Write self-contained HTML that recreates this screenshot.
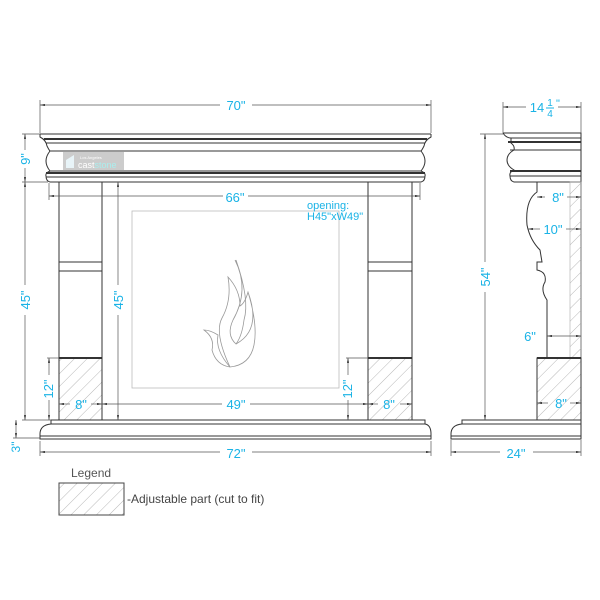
<!DOCTYPE html>
<html><head><style>body{margin:0;background:#fff}svg{display:block}</style></head><body>
<svg width="600" height="600" viewBox="0 0 600 600" xmlns="http://www.w3.org/2000/svg" font-family="Liberation Sans, sans-serif">
<defs>
<pattern id="h" width="9" height="9" patternUnits="userSpaceOnUse" patternTransform="rotate(45)">
<line x1="0" y1="0" x2="0" y2="9" stroke="#999" stroke-width="0.7"/>
</pattern>
<marker id="a" viewBox="0 0 10 10" refX="10" refY="5" markerWidth="7" markerHeight="7" orient="auto-start-reverse"><path d="M0,3 L10,5 L0,7 z" fill="#222"/></marker>
</defs>
<rect width="600" height="600" fill="#fff"/>
<g stroke="#333" stroke-width="1" fill="none">
<line x1="40" y1="134" x2="431" y2="134"/>
<path d="M40,134 L40,137 Q46,140 47,146 Q49,150 50,151 L421,151 Q422,150 424,146 Q425,140 431,137 L431,134"/>
<line x1="44" y1="139" x2="427" y2="139" stroke-width="2"/>
<line x1="46" y1="143" x2="425" y2="143"/>
<path d="M50,151 Q42,161 50,171 L421,171 Q429,161 421,151"/>
<path d="M50,171 Q45,173 46,176 Q46,181 50,182 L421,182 Q425,181 425,176 Q426,173 421,171 Z"/>
<line x1="46" y1="173" x2="425" y2="173" stroke-width="2"/>
<line x1="46" y1="177" x2="425" y2="177"/>
<rect x="59" y="182" width="43" height="238"/>
<rect x="368" y="182" width="44" height="238"/>
<line x1="59" y1="262" x2="102" y2="262"/><line x1="59" y1="271" x2="102" y2="271"/>
<line x1="368" y1="262" x2="412" y2="262"/><line x1="368" y1="271" x2="412" y2="271"/>
<rect x="59" y="358" width="43" height="62" fill="url(#h)"/>
<rect x="368" y="358" width="44" height="62" fill="url(#h)"/>
<line x1="59" y1="358" x2="102" y2="358" stroke-width="2"/>
<line x1="368" y1="358" x2="412" y2="358" stroke-width="2"/>
<path d="M51,420 L425,420 L425,424 Q431,425 431,434 L431,436 L40,436 L40,434 Q40,425 51,424 Z"/>
<line x1="51" y1="424" x2="425" y2="424"/>
<rect x="40" y="436" width="391" height="3"/>
</g>
<rect x="132" y="211" width="207" height="177" fill="none" stroke="#bbb" stroke-width="0.8"/>
<g stroke="#999" stroke-width="0.8" fill="none">
<path d="M235,260 Q250,290 233,320 Q226,335 236,344 Q242,336 244,320 Q250,300 236,260"/>
<path d="M236,344 Q262,330 248,292 Q245,303 240,306 Q240,290 228,277 Q232,300 222,318 Q214,333 230,367 Q250,365 254,345 Q258,325 248,292"/>
<path d="M230,367 Q215,350 218,335 Q210,330 204,330 Q215,338 212,350 Q216,365 230,367"/>
</g>
<rect x="63" y="152" width="61" height="18" fill="#ccc"/>
<text x="80" y="159" font-size="4" fill="#fff">Los Angeles</text>
<text x="78" y="168" font-size="9" fill="#fff">cast<tspan fill="#aee">stone</tspan></text>
<path d="M66,168 L66,160 L74,155 L74,168 Z" fill="#e8f4f8"/>
<g stroke="#333" stroke-width="1" fill="none">
<path d="M503,133 L581,133 L581,420"/>
<path d="M503,133 Q506,138 511,138 L511,143 Q515,146 514,150 Q507,154 507,160 Q507,166 514,170 Q509,172 510,176 Q510,181 514,182 L581,182"/>
<line x1="511" y1="138" x2="581" y2="138"/><line x1="508" y1="142" x2="581" y2="142" stroke-width="2"/>
<line x1="510" y1="150" x2="581" y2="150"/>
<line x1="510" y1="171" x2="581" y2="171" stroke-width="2"/><line x1="510" y1="176" x2="581" y2="176"/>
<path d="M537,182 L537,192 Q525,200 527,225 Q530,240 540,250 L542,262 L537,262 L537,270 Q547,272 545,282 Q540,290 547,300 L547,358"/>
<rect x="570" y="182" width="11" height="176" fill="url(#h)" stroke="#aaa" stroke-width="0.6"/>
<rect x="537" y="358" width="44" height="62" fill="url(#h)"/>
<line x1="537" y1="358" x2="581" y2="358" stroke-width="2"/>
<path d="M462,420 L581,420 L581,436 L451,436 L451,434 Q451,425 462,424 Z"/>
<line x1="462" y1="424" x2="581" y2="424"/>
<rect x="451" y="436" width="130" height="3"/>
</g>
<g stroke="#555" stroke-width="0.7" fill="none">
<line x1="40" y1="105" x2="220" y2="105" marker-start="url(#a)"/><line x1="252" y1="105" x2="431" y2="105" marker-end="url(#a)"/>
<line x1="40" y1="100" x2="40" y2="133"/><line x1="431" y1="100" x2="431" y2="133"/>
<line x1="49" y1="196" x2="223" y2="196" marker-start="url(#a)"/><line x1="248" y1="196" x2="420" y2="196" marker-end="url(#a)"/>
<line x1="49" y1="183" x2="49" y2="200"/><line x1="420" y1="183" x2="420" y2="200"/>
<line x1="40" y1="452" x2="220" y2="452" marker-start="url(#a)"/><line x1="252" y1="452" x2="431" y2="452" marker-end="url(#a)"/>
<line x1="40" y1="441" x2="40" y2="456"/><line x1="431" y1="441" x2="431" y2="456"/>
<line x1="25" y1="134" x2="25" y2="150" marker-start="url(#a)"/><line x1="25" y1="168" x2="25" y2="182" marker-end="url(#a)"/>
<line x1="22" y1="134" x2="40" y2="134"/><line x1="22" y1="182" x2="48" y2="182"/>
<line x1="25" y1="182" x2="25" y2="285" marker-start="url(#a)"/><line x1="25" y1="315" x2="25" y2="420" marker-end="url(#a)"/>
<line x1="22" y1="420" x2="51" y2="420"/>
<line x1="16" y1="420" x2="16" y2="438" marker-start="url(#a)" marker-end="url(#a)"/>
<line x1="13" y1="438" x2="40" y2="438"/>
<line x1="118" y1="182" x2="118" y2="285" marker-start="url(#a)"/><line x1="118" y1="315" x2="118" y2="420" marker-end="url(#a)"/>
<line x1="49" y1="358" x2="49" y2="375" marker-start="url(#a)"/><line x1="49" y1="400" x2="49" y2="420" marker-end="url(#a)"/>
<line x1="47" y1="358" x2="59" y2="358"/>
<line x1="348" y1="358" x2="348" y2="375" marker-start="url(#a)"/><line x1="348" y1="400" x2="348" y2="420" marker-end="url(#a)"/>
<line x1="346" y1="358" x2="368" y2="358"/>
<line x1="59" y1="404" x2="70" y2="404" marker-start="url(#a)"/><line x1="91" y1="404" x2="102" y2="404" marker-end="url(#a)"/>
<line x1="368" y1="404" x2="378" y2="404" marker-start="url(#a)"/><line x1="400" y1="404" x2="412" y2="404" marker-end="url(#a)"/>
<line x1="102" y1="404" x2="222" y2="404" marker-start="url(#a)"/><line x1="250" y1="404" x2="368" y2="404" marker-end="url(#a)"/>
<line x1="503" y1="107" x2="526" y2="107" marker-start="url(#a)"/><line x1="558" y1="107" x2="581" y2="107" marker-end="url(#a)"/>
<line x1="503" y1="102" x2="503" y2="133"/><line x1="581" y1="102" x2="581" y2="133"/>
<line x1="485" y1="134" x2="485" y2="262" marker-start="url(#a)"/><line x1="485" y1="292" x2="485" y2="420" marker-end="url(#a)"/>
<line x1="480" y1="134" x2="503" y2="134"/>
<line x1="451" y1="452" x2="500" y2="452" marker-start="url(#a)"/><line x1="533" y1="452" x2="581" y2="452" marker-end="url(#a)"/>
<line x1="451" y1="440" x2="451" y2="456"/><line x1="581" y1="440" x2="581" y2="456"/>
<line x1="537" y1="197" x2="545" y2="197" marker-start="url(#a)"/><line x1="567" y1="197" x2="581" y2="197" marker-end="url(#a)"/>
<line x1="528" y1="229" x2="540" y2="229" marker-start="url(#a)"/><line x1="566" y1="229" x2="581" y2="229" marker-end="url(#a)"/>
<line x1="547" y1="336" x2="581" y2="336" marker-start="url(#a)" marker-end="url(#a)"/>
<line x1="537" y1="403" x2="548" y2="403" marker-start="url(#a)"/><line x1="570" y1="403" x2="581" y2="403" marker-end="url(#a)"/>
</g>
<g fill="#1ab3e6" font-size="13" text-anchor="middle">
<text x="236" y="110">70"</text>
<text x="235" y="202">66"</text>
<text x="236" y="458">72"</text>
<text x="236" y="409">49"</text>
<text x="81" y="409">8"</text>
<text x="389" y="409">8"</text>
<text transform="translate(30,159) rotate(-90)">9"</text>
<text transform="translate(30,300) rotate(-90)">45"</text>
<text transform="translate(123,300) rotate(-90)">45"</text>
<text transform="translate(53,389) rotate(-90)">12"</text>
<text transform="translate(352,389) rotate(-90)">12"</text>
<text transform="translate(20,447) rotate(-90)" font-size="12">3"</text>
<text transform="translate(490,277) rotate(-90)">54"</text>
<text x="516" y="458">24"</text>
<text x="558" y="202">8"</text>
<text x="553" y="234">10"</text>
<text x="530" y="341">6"</text>
<text x="561" y="408">8"</text>
<text x="537" y="112" font-size="13">14</text>
<text x="550" y="106" font-size="10">1</text>
<line x1="546" y1="108" x2="554" y2="108" stroke="#1ab3e6"/>
<text x="550" y="117" font-size="10">4</text>
<text x="558" y="107" font-size="11">"</text>
<text x="307" y="209" font-size="11" text-anchor="start">opening:</text>
<text x="307" y="220" font-size="11" text-anchor="start">H45"xW49"</text>
</g>
<text x="71" y="477" font-size="12" fill="#555">Legend</text>
<rect x="59" y="483" width="65" height="32" fill="url(#h)" stroke="#444" stroke-width="1"/>
<text x="127" y="503" font-size="12" fill="#444">-Adjustable part (cut to fit)</text>
</svg>
</body></html>
